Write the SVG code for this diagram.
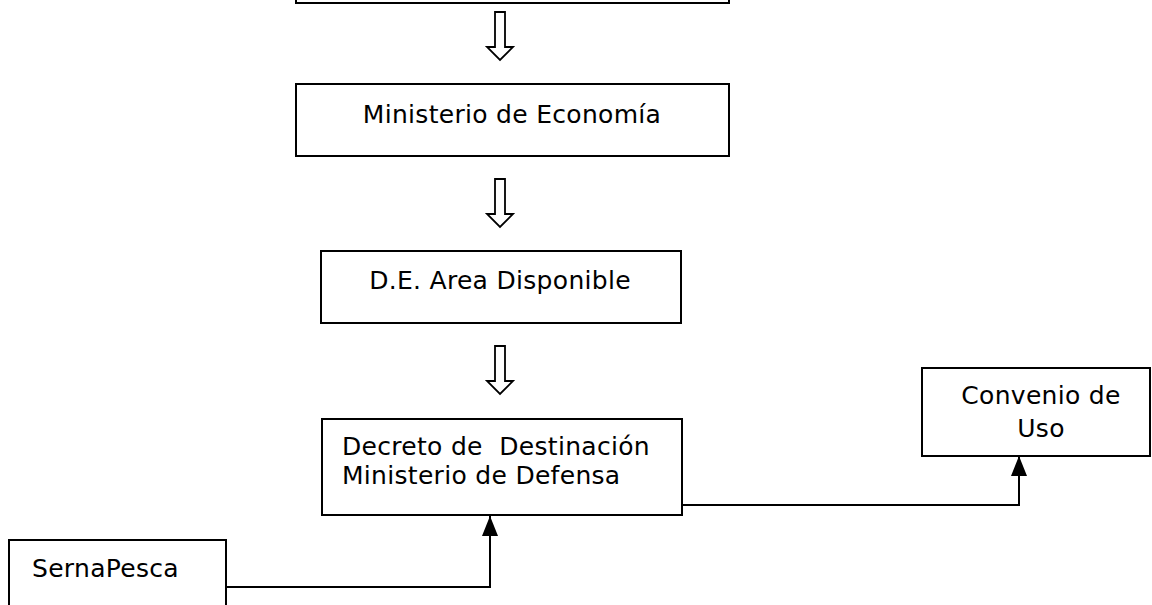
<svg xmlns="http://www.w3.org/2000/svg" width="1152" height="605" viewBox="0 0 1152 605">
  <style>
    .box { fill: #ffffff; stroke: #000000; stroke-width: 2; }
    .lbl { font-family: "DejaVu Sans", "Liberation Sans", sans-serif; font-size: 25px; letter-spacing: 0.3px; fill: #000000; }
    .hollow { fill: #ffffff; stroke: #000000; stroke-width: 1.8; stroke-linejoin: miter; }
    .conn { fill: none; stroke: #000000; stroke-width: 2; }
  </style>
  <defs>
    <marker id="head" viewBox="0 0 20 16" refX="20" refY="8" markerWidth="20" markerHeight="16" markerUnits="userSpaceOnUse" orient="auto">
      <path d="M0,0 L20,8 L0,16 Z" fill="#000000"/>
    </marker>
  </defs>
  <rect width="1152" height="605" fill="#ffffff"/>

  <g id="top-box">
    <rect class="box" x="296" y="-40" width="433" height="43"/>
  </g>
  <g id="ministerio-economia">
    <rect class="box" x="296" y="84" width="433" height="72"/>
    <text class="lbl" x="512" y="123" text-anchor="middle">Ministerio de Economía</text>
  </g>
  <g id="de-area-disponible">
    <rect class="box" x="321" y="251" width="360" height="72"/>
    <text class="lbl" x="500" y="289" text-anchor="middle">D.E. Area Disponible</text>
  </g>
  <g id="decreto-destinacion">
    <rect class="box" x="322" y="419" width="360" height="96"/>
    <text class="lbl" x="342" y="455" xml:space="preserve">Decreto de  Destinación</text>
    <text class="lbl" x="342" y="484">Ministerio de Defensa</text>
  </g>
  <g id="convenio-uso">
    <rect class="box" x="922" y="368" width="228" height="88"/>
    <text class="lbl" x="1041" y="404" text-anchor="middle">Convenio de</text>
    <text class="lbl" x="1041" y="437" text-anchor="middle">Uso</text>
  </g>
  <g id="sernapesca">
    <rect class="box" x="9" y="540" width="217" height="80"/>
    <text class="lbl" x="32" y="577">SernaPesca</text>
  </g>

  <g id="connectors">
    <path class="hollow" d="M495,12 H505 V47 H513 L500,60 L487,47 H495 Z"/>
    <path class="hollow" d="M495,179 H505 V214 H513 L500,227 L487,214 H495 Z"/>
    <path class="hollow" d="M495,346 H505 V381 H513 L500,394 L487,381 H495 Z"/>
    <path class="conn" d="M226,587 H490 V516" marker-end="url(#head)"/>
    <path class="conn" d="M682,505 H1019 V456" marker-end="url(#head)"/>
  </g>
</svg>
